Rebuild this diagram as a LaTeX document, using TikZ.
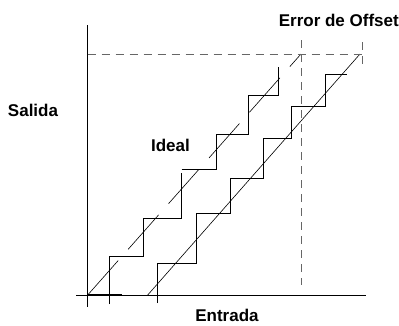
\documentclass[tikz,border=0pt]{standalone}
\usepackage{fontspec}
\setmainfont{Liberation Sans}
\usetikzlibrary{positioning}

\begin{document}
\begin{tikzpicture}[x=1pt,y=-1pt,
  stair/.style={line width=0.8pt},
  guide/.style={line width=1pt,black!60,dash pattern=on 8pt off 6pt},
  label/.style={inner sep=0pt,font=\fontsize{17}{20}\selectfont\bfseries}]
\useasboundingbox (0,0) rectangle (399,325);
% ejes
\coordinate (o) at (87.7,295);
\draw[stair] (87.7,25) -- (87.7,307);
\draw[stair] (76,295) -- (366,295);
% escalera ideal
\draw[line width=1.2pt] (o) -- (121.7,295);
\draw[stair] (109.3,304) -- (109.3,256) -- (143.3,256) -- (143.3,218.3)
  -- (181.7,218.3) -- (181.7,172.7);
\draw[stair] (181.7,169.3) -- (216,169.3) -- (216,134.3) -- (248.3,134.3)
  -- (248.3,95) -- (278.3,95) -- (278.3,66.7);
\draw[line width=0.6pt,dash pattern=on 46pt off 15pt] (o) -- (301,54);
% escalera con offset
\draw[stair] (157.7,303) -- (157.7,263.3) -- (196.7,263.3) -- (196.7,213.3)
  -- (230,213.3) -- (230,178.3) -- (263.3,178.3) -- (263.3,138.3)
  -- (291.7,138.3) -- (291.7,106) -- (325,106) -- (325,74.3) -- (346.7,74.3);
\draw[line width=0.6pt] (147.7,295) -- (360,54);
% guias
\draw[guide] (87.7,54) -- (362,54);
\draw[guide] (362,42) -- (362,65);
\draw[guide] (301,40) -- (301,285);
% textos
\node[label] (salida) at (33,110) {Salida};
\node[label] (ideal) at (170.5,145.7) {Ideal};
\node[label] (entrada) at (227,315.5) {Entrada};
\node[label] (offset) at (338.8,20) {Error de Offset};
\end{tikzpicture}
\end{document}
